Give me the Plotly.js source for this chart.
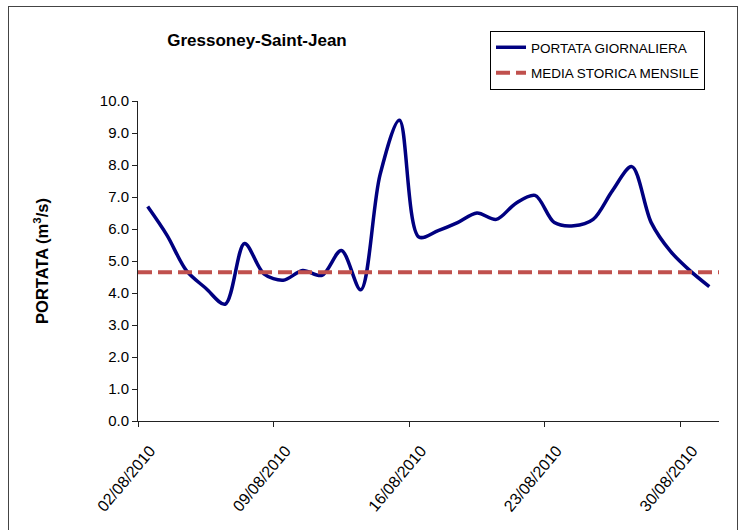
<!DOCTYPE html>
<html>
<head>
<meta charset="utf-8">
<script src="https://cdn.plot.ly/plotly-3.0.1.min.js"></script>
<style>
  html, body { margin: 0; padding: 0; background: #fff; }
  #chart { width: 742px; height: 530px; position: absolute; left: 0; top: 0; }
  #frame { position: absolute; left: 8px; top: 6px; width: 728px; height: 560px;
           border: 1px solid #444; pointer-events: none; }
</style>
</head>
<body>
<div id="chart"></div>
<div id="frame"></div>
<script>
// Data (August 2010, daily discharge, m3/s)
const days = [2,3,4,5,6,7,8,9,10,11,12,13,14,15,16,17,18,19,20,21,22,23,24,25,26,27,28,29,30,31];
const portataGiornaliera = [6.7,5.8,4.7,4.15,3.65,5.55,4.6,4.4,4.7,4.55,5.33,4.1,7.7,9.4,5.75,5.95,6.2,6.5,6.3,6.8,7.05,6.2,6.1,6.3,7.2,7.95,6.2,5.3,4.7,4.2];
const mediaStoricaMensile = 4.65;
const tickDays = [2,9,16,23,30];
const seriesNames = ["PORTATA GIORNALIERA", "MEDIA STORICA MENSILE"];

const pad = n => String(n).padStart(2, "0");
const dayCenter = d => "2010-08-" + pad(d) + " 12:00";
const dayStart = d => "2010-08-" + pad(d) + " 00:00";
const axisStart = dayStart(days[0]);
const axisEnd = "2010-09-01 00:00";

const FONT = "Liberation Sans, Arial, sans-serif";

const traces = [
  {
    x: days.map(dayCenter),
    y: portataGiornaliera,
    type: "scatter",
    mode: "lines",
    name: seriesNames[0],
    legendgroup: "a",
    line: { color: "#000080", width: 3.5, shape: "spline", smoothing: 0.9 },
    hoverinfo: "skip"
  },
  {
    x: [axisStart, axisEnd],
    y: [mediaStoricaMensile, mediaStoricaMensile],
    type: "scatter",
    mode: "lines",
    name: seriesNames[1],
    legendgroup: "b",
    line: { color: "#C0504D", width: 4, dash: "14px,6px" },
    hoverinfo: "skip"
  }
];

const layout = {
  width: 742, height: 530,
  margin: { l: 138, r: 23, t: 101, b: 109 },
  paper_bgcolor: "rgba(0,0,0,0)",
  plot_bgcolor: "#fff",
  showlegend: true,
  font: { family: FONT, color: "#000" },
  title: {
    text: "<b>Gressoney-Saint-Jean</b>",
    font: { family: FONT, size: 17, color: "#000" },
    xref: "paper", x: (257 - 138) / 581, xanchor: "center",
    yref: "container", y: 1 - 40 / 530, yanchor: "middle"
  },
  xaxis: {
    type: "date",
    range: [axisStart, axisEnd],
    tickvals: tickDays.map(dayStart),
    ticktext: tickDays.map(d => pad(d) + "/08/2010"),
    tickangle: -50,
    ticklabelshift: 12,
    ticklabelstandoff: 8,
    ticks: "outside", ticklen: 5, tickcolor: "#222",
    showline: true, linecolor: "#222", linewidth: 1,
    showgrid: false, zeroline: false,
    tickfont: { family: FONT, size: 16, color: "#000" }
  },
  yaxis: {
    range: [0, 10],
    dtick: 1, tick0: 0,
    tickformat: ".1f",
    ticks: "outside", ticklen: 5, tickcolor: "#222",
    showline: true, linecolor: "#222", linewidth: 1,
    showgrid: false, zeroline: false,
    tickfont: { family: FONT, size: 15, color: "#000" },
    title: {
      text: "<b>PORTATA (m<sup>3</sup>/s)</b>",
      font: { family: FONT, size: 16.5, color: "#000" },
      standoff: 47
    }
  },
  legend: {
    x: (490 - 138) / 581, xanchor: "left",
    y: (421 - 31) / 320, yanchor: "top",
    bgcolor: "#fff", bordercolor: "#000", borderwidth: 1,
    font: { family: FONT, size: 13.5, color: "#000" },
    tracegroupgap: 5
  }
};

Plotly.newPlot("chart", traces, layout, { displayModeBar: false, staticPlot: true });
</script>
</body>
</html>
